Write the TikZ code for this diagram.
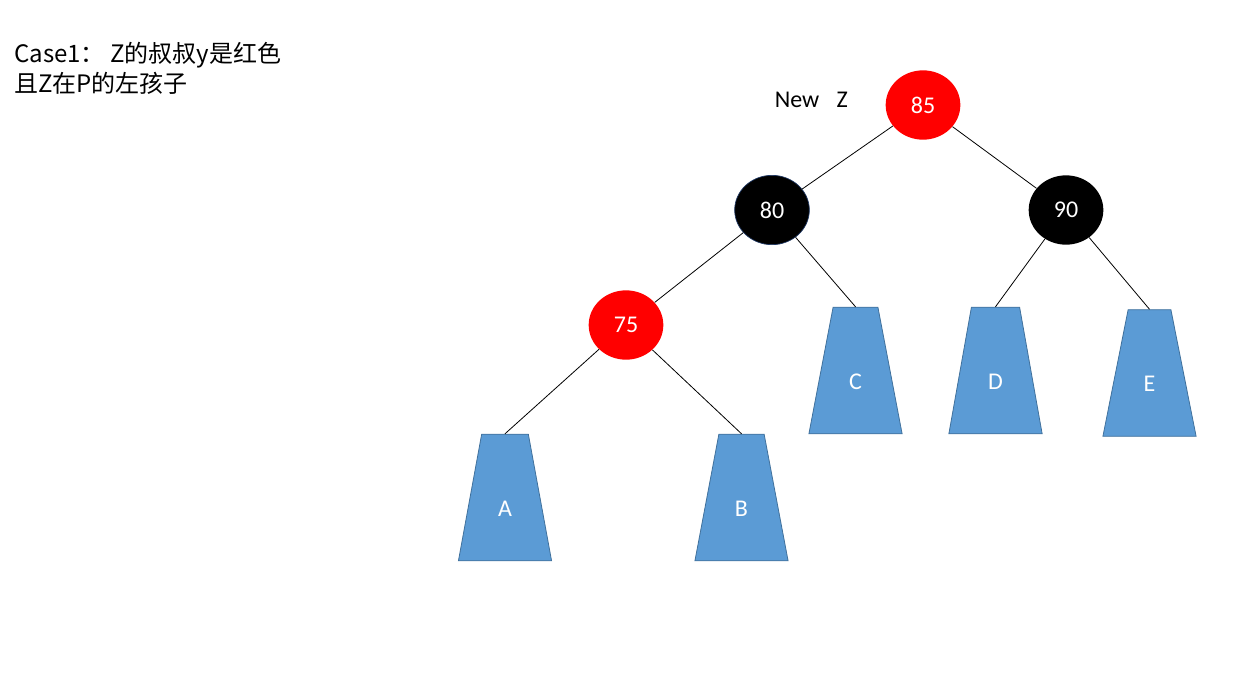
\documentclass[tikz,border=0pt]{standalone}
\usepackage{fontspec}
\setmainfont{Carlito}
\newfontfamily\cjk{Noto Sans CJK SC}
\usetikzlibrary{shapes.geometric,positioning}
\definecolor{rbred}{HTML}{FF0000}
\definecolor{treeblue}{HTML}{5B9BD5}
\definecolor{treeline}{HTML}{41719C}
\definecolor{navyline}{HTML}{1F3864}

\begin{document}
\begin{tikzpicture}[x=0.75pt,y=-0.75pt,
    rbnode/.style={ellipse,minimum width=56pt,minimum height=52pt,inner sep=0pt,
      text=white,font=\fontsize{18}{20}\selectfont},
    red node/.style={rbnode,fill=rbred},
    black node/.style={rbnode,fill=black},
    subtree/.style={trapezium,trapezium angle=79.5,trapezium stretches=true,
      minimum height=95pt,minimum width=70pt,inner sep=0pt,
      text height=28pt,text depth=0pt,
      fill=treeblue,draw=treeline,line width=0.6pt,
      text=white,font=\fontsize{18}{20}\selectfont},
    link/.style={black,line width=0.6pt}]
  \useasboundingbox (0,0) rectangle (1241,682);

  % caption
  \node[anchor=north west,inner sep=0pt,align=left,
        font=\cjk\fontsize{18}{22.5}\selectfont] (caption) at (14,42)
    {Case1：~Z的叔叔y是红色\\且Z在P的左孩子};

  % red-black nodes
  \node[red node] (n85) at (923,105) {85};
  \node[black node,draw=navyline,line width=0.5pt] (n80) at (772,210) {80};
  \node[black node] (n90) at (1066,210) {90};
  \node[red node] (n75) at (626,325) {75};
  \node[left=28pt of n85,inner sep=0pt,yshift=4pt,font=\fontsize{18}{20}\selectfont]
    (newz) {New\hspace{13pt}Z};

  % subtrees
  \node[subtree] (tA) at (505,497.5) {A};
  \node[subtree] (tB) at (741.5,497.5) {B};
  \node[subtree] (tC) at (855.5,370.5) {C};
  \node[subtree] (tD) at (995.5,370.5) {D};
  \node[subtree] (tE) at (1149.5,373) {E};

  \draw[link] (n85) -- (n80);
  \draw[link] (n85) -- (n90);
  \draw[link] (n80) -- (n75);
  \draw[link] (n80) -- (tC.top side);
  \draw[link] (n90) -- (tD.top side);
  \draw[link] (n90) -- (tE.top side);
  \draw[link] (n75) -- (tA.top side);
  \draw[link] (n75) -- (tB.top side);
\end{tikzpicture}
\end{document}
